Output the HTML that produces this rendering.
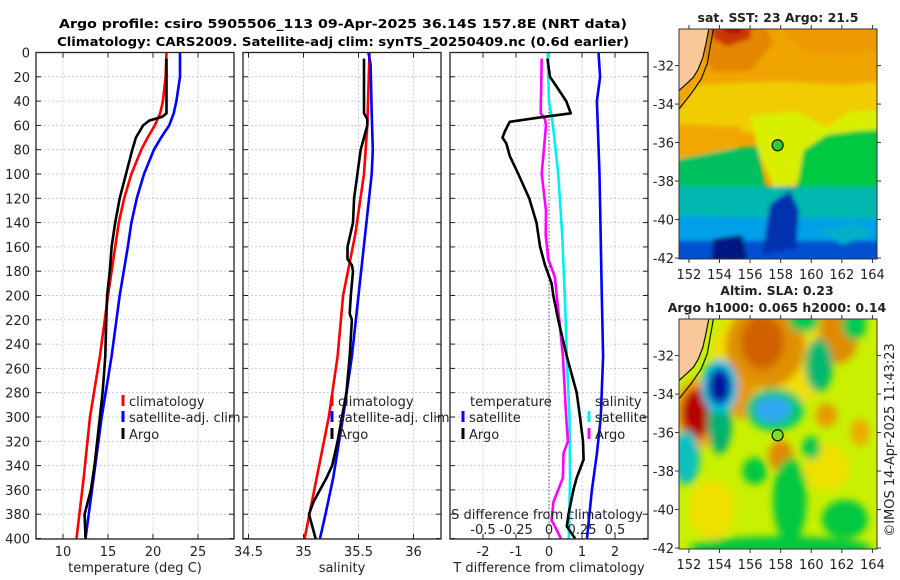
<!DOCTYPE html>
<html><head><meta charset="utf-8">
<style>
html,body{margin:0;padding:0;background:#fff;}
svg{display:block;font-family:"DejaVu Sans","Liberation Sans",sans-serif;}
</style></head>
<body>
<svg id="fig" width="900" height="580" viewBox="0 0 900 580" xmlns="http://www.w3.org/2000/svg">
<defs>
<filter id="blur1" x="-10%" y="-10%" width="120%" height="120%"><feGaussianBlur stdDeviation="2"/></filter>
<filter id="blur2" x="-10%" y="-10%" width="120%" height="120%"><feGaussianBlur stdDeviation="4"/></filter>
<clipPath id="clipMap1"><rect x="679" y="29" width="198" height="230"/></clipPath>
<clipPath id="clipMap2"><rect x="679" y="319" width="198" height="230"/></clipPath>
<clipPath id="clipP1"><rect x="36" y="52" width="198" height="487"/></clipPath>
<clipPath id="clipP2"><rect x="243" y="52" width="198" height="487"/></clipPath>
<clipPath id="clipP3"><rect x="450" y="52" width="198" height="487"/></clipPath>
</defs>
<text x="343" y="28" text-anchor="middle" font-weight="bold" font-size="12.5" textLength="568" lengthAdjust="spacingAndGlyphs">Argo profile: csiro 5905506_113 09-Apr-2025 36.14S 157.8E (NRT data)</text>
<text x="343" y="46" text-anchor="middle" font-weight="bold" font-size="12.5" textLength="572" lengthAdjust="spacingAndGlyphs">Climatology: CARS2009. Satellite-adj clim: synTS_20250409.nc (0.6d earlier)</text>
<g id="g-panels"></g>
<g id="g-maps"></g>
<text transform="translate(894,440) rotate(-90)" text-anchor="middle" font-size="13" fill="#222">©IMOS 14-Apr-2025 11:43:23</text>
</svg>
<script>
// ---- data: depth profiles ----
const tempClimDepth = [0,20,40,50,60,70,80,100,120,140,160,180,200,250,300,350,400];
const tempClim      = [21.5,21.4,21.1,20.8,20.2,19.4,18.7,17.6,16.8,16.2,15.8,15.4,15.0,14.1,13.0,12.3,11.5];
const tempSatDepth  = [0,20,40,50,60,70,80,100,120,140,160,200,250,300,350,400];
const tempSat       = [23.0,23.0,22.6,22.3,21.8,20.9,20.1,19.0,18.2,17.6,17.2,16.3,15.4,14.3,13.4,12.5];
const tempArgoDepth = [5,50,53,56,60,70,80,100,120,140,160,180,200,220,250,280,300,320,340,360,380,400];
const tempArgo      = [21.5,21.5,21.0,19.6,18.9,18.1,17.7,17.0,16.3,15.8,15.4,15.2,14.9,14.8,14.7,14.4,14.1,13.8,13.5,13.1,12.4,12.5];

const salClimDepth = [0,60,100,150,200,250,300,350,400];
const salClim      = [35.60,35.58,35.55,35.47,35.36,35.31,35.23,35.12,35.01];
const salSatDepth  = [0,10,50,80,100,150,200,250,300,350,380,400];
const salSat       = [35.59,35.61,35.62,35.63,35.62,35.56,35.50,35.44,35.36,35.27,35.20,35.15];
const salArgoDepth = [5,50,55,60,70,80,100,120,140,160,170,175,180,190,200,215,220,250,280,300,320,340,350,360,370,380,390,400];
const salArgo      = [35.55,35.55,35.58,35.58,35.55,35.52,35.49,35.46,35.45,35.40,35.40,35.44,35.45,35.44,35.43,35.42,35.44,35.42,35.39,35.35,35.31,35.26,35.21,35.15,35.09,35.05,35.08,35.11];

const dTSatDepth  = [0,20,40,100,200,250,300,330,360,400];
const dTSat       = [1.50,1.55,1.45,1.53,1.60,1.64,1.57,1.45,1.30,1.15];
const dSSatDepth  = [0,40,60,100,150,200,250,300,350,400];
const dSSat       = [-0.01,0.0,0.03,0.07,0.10,0.12,0.135,0.155,0.16,0.15];
const dTArgoDepth = [5,20,30,40,50,53,57,65,70,75,85,100,120,140,160,175,190,200,220,250,280,300,320,335,350,360,380,390,400];
const dTArgo      = [-0.05,0.03,0.28,0.52,0.66,-0.17,-1.19,-1.34,-1.41,-1.29,-1.19,-0.93,-0.60,-0.38,-0.27,-0.12,0.08,0.13,0.28,0.54,0.84,0.94,1.03,1.05,0.84,0.74,0.59,0.54,0.79];
const dSArgoDepth = [5,50,55,60,100,130,150,170,180,185,200,220,250,300,320,330,350,360,370,385,390,400];
const dSArgo      = [-0.055,-0.063,-0.03,-0.023,-0.055,-0.023,-0.025,-0.005,0.028,0.045,0.058,0.078,0.105,0.13,0.143,0.11,0.105,0.07,0.033,0.02,0.045,0.09];

// ---- tick labels ----
const depthTicks = [0,20,40,60,80,100,120,140,160,180,200,220,240,260,280,300,320,340,360,380,400];
const tempTicks = [10,15,20,25];
const salTicks = [34.5,35,35.5,36];
const salTickLabels = ["34.5","35","35.5","36"];
const dTTicks = [-2,-1,0,1,2];
const dSTicks = [-0.5,-0.25,0,0.25,0.5];
const dSTickLabels = ["-0.5","-0.25","0","0.25","0.5"];
const lonTicks = [152,154,156,158,160,162,164];
const latTicks = [-32,-34,-36,-38,-40,-42];
const argoLon = 157.8, argoLat = -36.14;

const NS = "http://www.w3.org/2000/svg";
function mk(tag, attrs, parent){ const e=document.createElementNS(NS,tag); for(const k in attrs) e.setAttribute(k,attrs[k]); parent.appendChild(e); return e; }

const Y0=52.5, PXM=1.215;
function yScale(d){ return Y0 + d*PXM; }
function makeX(x0,w,mn,mx){ return v => x0 + (v-mn)/(mx-mn)*w; }
const xT = makeX(36,198,7,29);
const xS = makeX(243,198,34.45,36.25);
const xDT = makeX(450,198,-3,3);
const xDS = makeX(450,198,-0.75,0.75);

const gp = document.getElementById('g-panels');

function panelFrame(x0, xs, ticks, labels, name){
  const g = mk('g',{},gp);
  
  
  depthTicks.forEach(d=>{
    const y=yScale(d);
    const l=mk('line',{x1:x0,x2:x0+198,y1:y,y2:y,stroke:'#b8c0e8','stroke-width':0.8,'stroke-dasharray':'2,2'},g);
    
    
    mk('line',{x1:x0,x2:x0+5,y1:y,y2:y,stroke:'#222'},g);
    mk('line',{x1:x0+193,x2:x0+198,y1:y,y2:y,stroke:'#222'},g);
  });
  ticks.forEach((t,i)=>{
    const x=xs(t);
    const l=mk('line',{x1:x,x2:x,y1:Y0,y2:539,stroke:'#b8c0e8','stroke-width':0.8,'stroke-dasharray':'2,2'},g);
    
    
    mk('line',{x1:x,x2:x,y1:539,y2:534,stroke:'#222'},g);
    mk('line',{x1:x,x2:x,y1:Y0,y2:Y0+5,stroke:'#222'},g);
    const tx=mk('text',{x:x,y:556,'text-anchor':'middle','font-size':13,fill:'#222'},g);
    
    
    tx.textContent=labels?labels[i]:String(t);
  });
  return g;
}
function series(g, depths, vals, xs, color, name, clip){
  const pts = depths.map((d,i)=> xs(vals[i]).toFixed(1)+','+yScale(d).toFixed(1)).join(' ');
  const p=mk('polyline',{points:pts,fill:'none',stroke:color,'stroke-width':2.6,'stroke-linejoin':'round','clip-path':'url(#'+clip+')'},g);
  
  
}
function frame(g,x0){
  const r=mk('rect',{x:x0,y:Y0,width:198,height:486.5,fill:'none',stroke:'#222','stroke-width':1.3},g);
  
  
}
function legendItem(g,x,y,color,label,name){
  const m=mk('rect',{x:x-1.5,y:y-6,width:3,height:11,fill:color},g);
  
  
  const t=mk('text',{x:x+6,y:y+5,'font-size':13,fill:'#222'},g);
  
  
  t.textContent=label;
}
function txt(g,x,y,s,name,anchor,size,weight){
  const t=mk('text',{x:x,y:y,'text-anchor':anchor||'middle','font-size':size||13,fill:'#222'},g);
  if(weight) t.setAttribute('font-weight',weight);
  
  
  t.textContent=s; return t;
}

// Panel 1 temperature
const g1 = panelFrame(36,xT,tempTicks,null,'temperature-panel');
depthTicks.forEach(d=>{ txt(g1,30,yScale(d)+5,String(d),'y-tick-label','end'); });
series(g1,tempClimDepth,tempClim,xT,'#ff0000','temp-climatology-line','clipP1');
series(g1,tempSatDepth,tempSat,xT,'#0000ff','temp-satellite-line','clipP1');
series(g1,tempArgoDepth,tempArgo,xT,'#000000','temp-argo-line','clipP1');
frame(g1,36);
txt(g1,135,572,'temperature (deg C)','x-axis-title-temperature');
legendItem(g1,123,401,'#ff0000','climatology','legend-climatology');
legendItem(g1,123,417,'#0000ff','satellite-adj. clim','legend-satellite');
legendItem(g1,123,434,'#000000','Argo','legend-argo');

// Panel 2 salinity
const g2 = panelFrame(243,xS,salTicks,salTickLabels,'salinity-panel');
series(g2,salClimDepth,salClim,xS,'#ff0000','sal-climatology-line','clipP2');
series(g2,salSatDepth,salSat,xS,'#0000ff','sal-satellite-line','clipP2');
series(g2,salArgoDepth,salArgo,xS,'#000000','sal-argo-line','clipP2');
frame(g2,243);
txt(g2,342,572,'salinity','x-axis-title-salinity');
legendItem(g2,332,401,'#ff0000','climatology','legend2-climatology');
legendItem(g2,332,417,'#0000ff','satellite-adj. clim','legend2-satellite');
legendItem(g2,332,434,'#000000','Argo','legend2-argo');

// Panel 3 differences
const g3 = panelFrame(450,xDT,dTTicks,null,'difference-panel');
const z=mk('line',{x1:xDT(0),x2:xDT(0),y1:Y0,y2:539,stroke:'#555','stroke-width':1,'stroke-dasharray':'1.5,2'},g3);


series(g3,dTSatDepth,dTSat,xDT,'#0000ff','dT-satellite-line','clipP3');
series(g3,dSSatDepth,dSSat,xDS,'#00f0f0','dS-satellite-line','clipP3');
series(g3,dSArgoDepth,dSArgo,xDS,'#ff00ff','dS-argo-line','clipP3');
series(g3,dTArgoDepth,dTArgo,xDT,'#000000','dT-argo-line','clipP3');
frame(g3,450);
txt(g3,549,572,'T difference from climatology','x-axis-title-dT');
txt(g3,547,519,'S difference from climatology','s-axis-title');
dSTicks.forEach((t,i)=>{ txt(g3,xDS(t),534,dSTickLabels[i],'s-tick-label'); });
txt(g3,470,406,'temperature','legend-temperature-heading','start');
legendItem(g3,463,417,'#0000ff','satellite','legend3-t-satellite');
legendItem(g3,463,434,'#000000','Argo','legend3-t-argo');
txt(g3,595,406,'salinity','legend-salinity-heading','start');
legendItem(g3,589,417,'#00f0f0','satellite','legend3-s-satellite');
legendItem(g3,589,434,'#ff00ff','Argo','legend3-s-argo');

// ---- maps ----
const gm = document.getElementById('g-maps');
const LON0=151.35, LON1=164.3, LAT0=-30.1, LAT1=-42.05;
function mapLon(x0){ return v => x0 + (v-LON0)/(LON1-LON0)*198; }
function mapLat(y0){ return v => y0 + (v-LAT0)/(LAT1-LAT0)*230; }

const sstRegions = [
 ['#f0a400',[[151,-29],[165,-29],[165,-35],[151,-35]]],
 ['#e48600',[[152.8,-29],[156.5,-29],[157.5,-30.8],[156,-32.3],[153.5,-32.3],[152.8,-31]]],
 ['#c83800',[[153.3,-29],[156.2,-29],[156,-30.6],[154.5,-31.0],[153.6,-30.6]]],
 ['#b00000',[[154.2,-29],[155.6,-29],[155.4,-30.3],[154.4,-30.3]]],
 ['#ec9a00',[[158,-29],[165,-29],[165,-31.2],[160,-31.4],[158.5,-30.6]]],
 ['#f0cc00',[[152.5,-33.0],[158,-32.8],[162,-33.0],[165,-32.8],[165,-35.5],[152,-35.5],[151,-34.8]]],
 ['#d8f000',[[156,-34.6],[159,-34.4],[161,-35.2],[162.5,-34.4],[165,-34.3],[165,-35.6],[160,-36.3],[159,-38.2],[157.5,-38.3],[156.5,-36.4]]],
 ['#f0a800',[[151,-35],[155.5,-35.2],[155,-36.3],[151,-36.9]]],
 ['#00c060',[[151,-36.9],[155,-36.3],[156.5,-36.2],[157,-38.4],[151,-38.5]]],
 ['#00c840',[[159.5,-36.4],[161,-35.6],[163,-35.4],[165,-35.3],[165,-38.6],[159,-38.6]]],
 ['#00b8b0',[[151,-38.3],[165,-38.3],[165,-40.2],[151,-40.2]]],
 ['#00a0e8',[[151,-39.8],[165,-40],[165,-41.3],[151,-41.3]]],
 ['#0050d0',[[151,-41.1],[165,-41.1],[165,-43],[151,-43]]],
 ['#0030b0',[[157.3,-39.2],[158.6,-38.5],[159.2,-39.5],[159,-41.5],[156.8,-41.8]]],
 ['#001880',[[153.6,-41],[155.5,-40.8],[156,-43],[153.4,-43]]],
 ['#00b0c8',[[160.5,-40.6],[163,-40.2],[164,-40.8],[162,-41.3]]]
];
const slaBlobs = [
 ['#f0e000',157.5,-32.0,4.0,2.8],
 ['#e09000',157.0,-31.5,2.6,2.2],
 ['#d06000',156.8,-31.3,1.4,1.4],
 ['#e08a00',161.8,-30.8,1.3,1.6],
 ['#e89800',155.5,-34.2,0.9,1.1],
 ['#f0a000',152.6,-35.0,1.5,1.8],
 ['#b80000',152.5,-35.0,1.0,1.3],
 ['#00b070',154.0,-35.5,0.8,1.6],
 ['#00c0e0',154.0,-33.6,1.2,1.4],
 ['#0018a0',154.0,-33.6,0.75,0.95],
 ['#00c870',157.6,-34.8,1.9,1.1],
 ['#30a8f0',157.5,-34.8,1.2,0.7],
 ['#00b870',160.5,-32.5,0.9,1.4],
 ['#00c850',162.8,-30.4,0.8,0.8],
 ['#00c850',159.5,-30.2,1.0,0.6],
 ['#e08800',158.0,-37.2,0.8,0.8],
 ['#e89800',161.0,-35.1,0.7,0.6],
 ['#f0a800',163.2,-36.0,0.6,0.7],
 ['#10c0c0',151.8,-37.3,0.9,1.4],
 ['#00c840',158.6,-39.5,1.1,2.2],
 ['#00c840',156.3,-38.0,0.8,0.7],
 ['#00c840',162.2,-40.5,1.5,1.0],
 ['#00c840',158.0,-42.0,6.0,0.6],
 ['#f0e000',153.5,-40.0,1.5,1.5],
 ['#f0e000',161.0,-37.8,1.5,1.2],
 ['#00c850',160.0,-36.8,0.6,0.6]
];
const coastLine = [[153.3,-30.1],[153.1,-30.9],[152.9,-31.6],[152.6,-32.2],[152.3,-32.6],[151.9,-32.9],[151.35,-33.3]];
const shelfLine = [[153.6,-30.1],[153.4,-31.0],[153.2,-31.9],[152.8,-32.7],[152.2,-33.4],[151.35,-34.25]];

function drawMap(y0, clip, name, title1, title2){
  const g = mk('g',{},gm);
  
  
  const X=mapLon(679), Y=mapLat(y0);
  const inner = mk('g',{'clip-path':'url(#'+clip+')'},g);
  mk('rect',{x:679,y:y0,width:198,height:230,fill: name==='sst-map'?'#f0a400':'#c8f000'},inner);
  const bl = mk('g',{filter: name==='sst-map'?'url(#blur1)':'url(#blur2)'},inner);
  if(name==='sst-map'){
    sstRegions.forEach(r=>{
      const p=mk('polygon',{points:r[1].map(q=>X(q[0]).toFixed(1)+','+Y(q[1]).toFixed(1)).join(' '),fill:r[0]},bl);
      
      
    });
  } else {
    slaBlobs.forEach(b=>{
      const e=mk('ellipse',{cx:X(b[1]),cy:Y(b[2]),rx:b[3]*15.3,ry:b[4]*19.3,fill:b[0]},bl);
      
      
    });
  }
  const land=[[151.0,-29.5]].concat(coastLine).concat([[151.0,-33.3]]);
  const lp=mk('polygon',{points:land.map(q=>X(q[0]).toFixed(1)+','+Y(q[1]).toFixed(1)).join(' '),fill:'#f8c898'},inner);
  
  
  mk('polyline',{points:coastLine.map(q=>X(q[0]).toFixed(1)+','+Y(q[1]).toFixed(1)).join(' '),fill:'none',stroke:'#111','stroke-width':1.2},inner);
  mk('polyline',{points:shelfLine.map(q=>X(q[0]).toFixed(1)+','+Y(q[1]).toFixed(1)).join(' '),fill:'none',stroke:'#111','stroke-width':1.2},inner);
  const dot=mk('circle',{cx:X(argoLon),cy:Y(argoLat),r:5.5,fill: name==='sst-map'?'#30cc30':'#80e020',stroke:'#111','stroke-width':1.2},g);
  
  
  const fr=mk('rect',{x:679,y:y0,width:198,height:230,fill:'none',stroke:'#333','stroke-width':1},g);
  
  
  lonTicks.forEach(t=>{
    const x=X(t);
    mk('line',{x1:x,x2:x,y1:y0+230,y2:y0+234,stroke:'#333'},g);
    mk('line',{x1:x,x2:x,y1:y0,y2:y0-4,stroke:'#333'},g);
    txt(g,x,y0+250,String(t),'lon-tick-label');
  });
  latTicks.forEach(t=>{
    const y=Y(t);
    mk('line',{x1:679,x2:675,y1:y,y2:y,stroke:'#333'},g);
    mk('line',{x1:877,x2:881,y1:y,y2:y,stroke:'#333'},g);
    txt(g,674,y+5,String(t),'lat-tick-label','end');
  });
  if(title2){
    txt(g,777,y0-24,title1,'map-title-1','middle',12.5,'bold');
    txt(g,777,y0-7,title2,'map-title-2','middle',12.5,'bold');
  } else {
    txt(g,778,y0-7,title1,'map-title','middle',12.5,'bold');
  }
}
drawMap(29,'clipMap1','sst-map','sat. SST: 23 Argo: 21.5');
drawMap(319,'clipMap2','sla-map','Altim. SLA: 0.23','Argo h1000: 0.065 h2000: 0.14');
</script>
</body></html>
